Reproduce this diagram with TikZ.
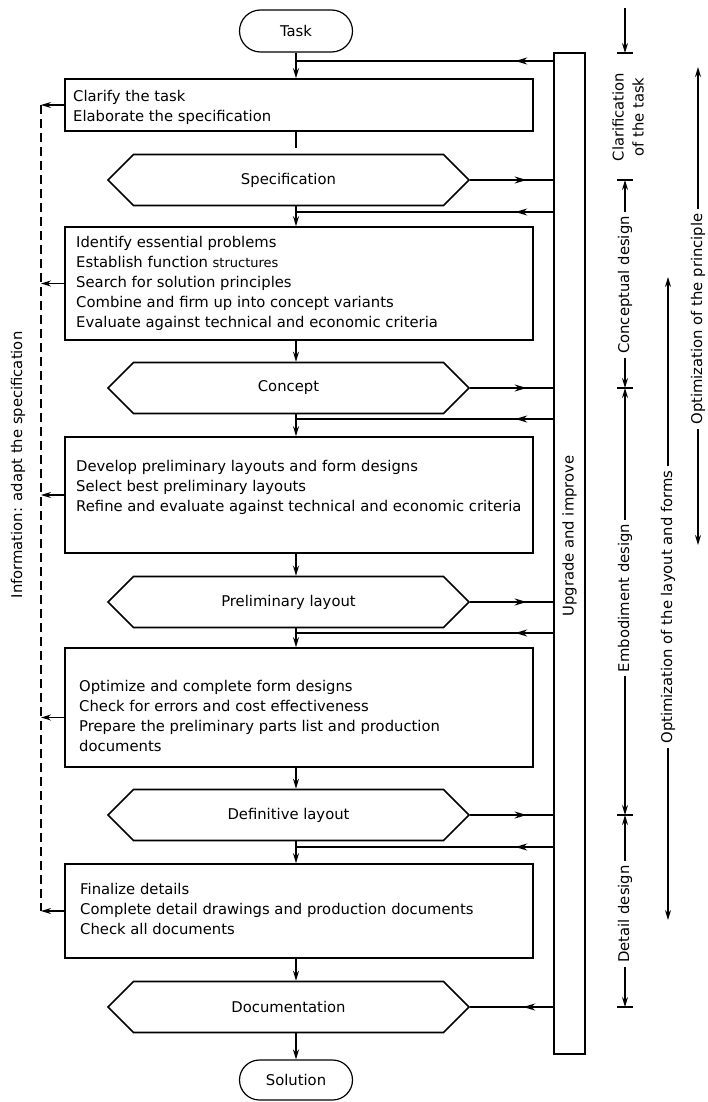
\documentclass[tikz,border=0pt]{standalone}
\usepackage{fontspec}
\setmainfont{DejaVu Sans}
\usetikzlibrary{arrows.meta,shapes.misc,shapes.symbols,decorations.markings}
\begin{document}
\begin{tikzpicture}[x=1pt,y=-1pt,
  font=\fontsize{14.8}{20}\selectfont,
  procbox/.style={draw, line width=1.6pt, rectangle, inner sep=0pt, minimum width=468pt},
  boxtext/.style={align=left, anchor=west, inner sep=0pt},
  hexa/.style={draw, line width=1.6pt, shape=signal, signal to=west and east, signal pointer angle=90, minimum height=51pt, minimum width=361pt, inner sep=0pt},
  term/.style={draw, line width=1.2pt, rounded rectangle, minimum width=113pt, minimum height=42pt, inner sep=0pt},
  flow/.style={line width=1.2pt, -{Stealth[length=10pt,width=6pt]}},
  plain/.style={line width=1.2pt},
  frombar/.style={line width=1.6pt, postaction={decorate}, decoration={markings, mark=at position 38pt with {\arrow{Stealth[length=12pt,width=7pt]}}}},
  tobar/.style={line width=1.6pt, postaction={decorate}, decoration={markings, mark=at position 0.68 with {\arrow{Stealth[length=12pt,width=7pt]}}}},
  todoc/.style={line width=1.6pt, postaction={decorate}, decoration={markings, mark=at position 30pt with {\arrow{Stealth[length=12pt,width=7pt]}}}},
  ann/.style={line width=1.2pt, -{Stealth[length=10pt,width=6pt]}},
  tickmark/.style={line width=1.2pt},
  rot/.style={rotate=90, inner sep=4pt},
  infoline/.style={line width=1.1pt, dash pattern=on 9pt off 5pt}
]
\useasboundingbox (0,0) rectangle (708,1102);
\fill[white] (0,0) rectangle (708,1102);
\clip (0,0) rectangle (708,1102);

\coordinate (mx) at (296,0);
\coordinate (dl) at (41,0);

% main column
\node[term] (task) at (296,31) {Task};
\node[procbox, minimum height=52pt] (clar) at (299,105) {};
\node[boxtext] (clart) at (73,107) {Clarify the task\\Elaborate the specification};
\node[hexa] (spec) at (288.5,180) {Specification};
\node[procbox, minimum height=113pt] (ident) at (299,283.5) {};
\node[boxtext] (identt) at (76,283) {Identify essential problems\\Establish function {\fontsize{13}{20}\selectfont structures}\\Search for solution principles\\Combine and firm up into concept variants\\Evaluate against technical and economic criteria};
\node[hexa] (conc) at (288.5,388) {Concept};
\node[procbox, minimum height=116pt] (devel) at (299,495) {};
\node[boxtext] (develt) at (76,487) {Develop preliminary layouts and form designs\\Select best preliminary layouts\\Refine and evaluate against technical and economic criteria};
\node[hexa] (prel) at (288.5,602) {Preliminary layout};
\node[procbox, minimum height=119pt] (optim) at (299,707.5) {};
\node[boxtext] (optimt) at (79,716) {Optimize and complete form designs\\Check for errors and cost effectiveness\\Prepare the preliminary parts list and production\\documents};
\node[hexa] (defin) at (288.5,815) {Definitive layout};
\node[procbox, minimum height=94pt] (final) at (299,911) {};
\node[boxtext] (finalt) at (80,909) {Finalize details\\Complete detail drawings and production documents\\Check all documents};
\node[hexa] (doc) at (288.5,1007) {Documentation};
\node[term, minimum height=40pt] (sol) at (296,1080) {Solution};

% bar
\node[draw, line width=1.6pt, minimum width=31pt, minimum height=1001pt, inner sep=0pt] (bar) at (569.5,553.5) {};
\node[rot] (upg) at (569.5,536) {Upgrade and improve};

% main flow connectors
\coordinate (cend) at (296,148);
\draw[flow] (task.south) -- (mx |- clar.north);
\draw[plain] (mx |- clar.south) -- (cend);
\draw[flow] (mx |- spec.south) -- (mx |- ident.north);
\draw[flow] (mx |- ident.south) -- (mx |- conc.north);
\draw[flow] (mx |- conc.south) -- (mx |- devel.north);
\draw[flow] (mx |- devel.south) -- (mx |- prel.north);
\draw[flow] (mx |- prel.south) -- (mx |- optim.north);
\draw[flow] (mx |- optim.south) -- (mx |- defin.north);
\draw[flow] (mx |- defin.south) -- (mx |- final.north);
\draw[flow] (mx |- final.south) -- (mx |- doc.north);
\draw[flow] (mx |- doc.south) -- (sol.north);

% feedback with bar
\coordinate (j0) at (296,61);
\coordinate (j1) at (296,212);
\coordinate (j2) at (296,419);
\coordinate (j3) at (296,633);
\coordinate (j4) at (296,847);
\draw[frombar] (bar.west |- j0) -- (j0);
\draw[tobar] (spec.east) -- (bar.west |- spec.east);
\draw[frombar] (bar.west |- j1) -- (j1);
\draw[tobar] (conc.east) -- (bar.west |- conc.east);
\draw[frombar] (bar.west |- j2) -- (j2);
\draw[tobar] (prel.east) -- (bar.west |- prel.east);
\draw[frombar] (bar.west |- j3) -- (j3);
\draw[tobar] (defin.east) -- (bar.west |- defin.east);
\draw[frombar] (bar.west |- j4) -- (j4);
\draw[todoc] (bar.west |- doc.east) -- (doc.east);

% information (dashed) line
\draw[infoline] (clar.west -| dl) -- (final.west -| dl);
\foreach \b in {clar,ident,devel,final} \draw[ann] (\b.west) -- (\b.west -| dl);
\draw[ann] ([yshift=-10pt]optim.west) -- ([yshift=-10pt]optim.west -| dl);
\node[rot] (info) at (18,465) {Information: adapt the specification};

% phase annotations
\coordinate (a0) at (625,8);
\coordinate (t0) at (625,53);
\coordinate (t1) at (625,180);
\coordinate (t2) at (625,388);
\coordinate (t3) at (625,815);
\coordinate (t4) at (625,1007);
\foreach \t in {t0,t1,t2,t3,t4} \draw[tickmark] (\t) ++(-8,0) -- ++(16,0);
\draw[ann] (a0) -- (t0);
\node[rot, align=center] (clarif) at (628,117) {Clarification\\of the task};
\node[rot] (cd) at (625,285) {Conceptual design};
\draw[ann] (cd.east) -- (t1);
\draw[ann] (cd.west) -- (t2);
\node[rot] (ed) at (625,598) {Embodiment design};
\draw[ann] (ed.east) -- (t2);
\draw[ann] (ed.west) -- (t3);
\node[rot] (dd) at (625,914) {Detail design};
\draw[ann] (dd.east) -- (t3);
\draw[ann] (dd.west) -- (t4);

\coordinate (ol1) at (668,277);
\coordinate (ol2) at (668,920);
\node[rot] (ol) at (668,607) {Optimization of the layout and forms};
\draw[ann] (ol.east) -- (ol1);
\draw[ann] (ol.west) -- (ol2);

\coordinate (op1) at (698,67);
\coordinate (op2) at (698,545);
\node[rot] (op) at (698,319) {Optimization of the principle};
\draw[ann] (op.east) -- (op1);
\draw[ann] (op.west) -- (op2);
\end{tikzpicture}
\end{document}
